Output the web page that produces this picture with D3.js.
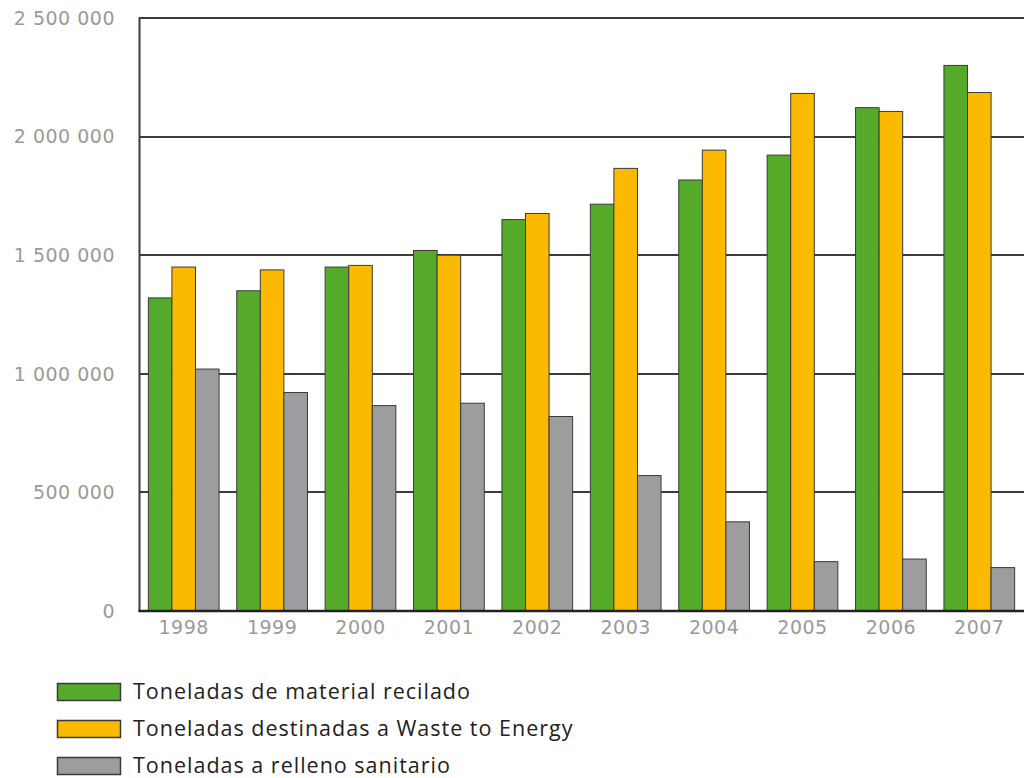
<!DOCTYPE html>
<html>
<head>
<meta charset="utf-8">
<script src="https://cdn.jsdelivr.net/npm/d3@7"></script>
<style>
  html, body { margin: 0; padding: 0; background: #fff; }
  svg { display: block; }
</style>
</head>
<body>
<svg id="chart" width="1024" height="778"></svg>
<script>
// Years on the horizontal axis
const years = ["1998", "1999", "2000", "2001", "2002", "2003", "2004", "2005", "2006", "2007"];

// Tonnes per year for each destination
const recycled = [1320000, 1350000, 1450000, 1520000, 1650000, 1715000, 1817000, 1922000, 2122000, 2300000];
const wasteToEnergy = [1450000, 1438000, 1457000, 1500000, 1676000, 1866000, 1943000, 2182000, 2106000, 2186000];
const landfill = [1020000, 921000, 866000, 876000, 820000, 571000, 376000, 208000, 219000, 183000];

// Vertical axis ticks
const yTicks = [0, 500000, 1000000, 1500000, 2000000, 2500000];

// Legend entries
const seriesNames = [
  "Toneladas de material recilado",
  "Toneladas destinadas a Waste to Energy",
  "Toneladas a relleno sanitario"
];
const seriesColors = ["#56aa2a", "#fbb900", "#9d9d9f"];
const seriesValues = [recycled, wasteToEnergy, landfill];

const svg = d3.select("#chart");

const plot = { left: 139.5, right: 1023.5, top: 18, bottom: 611 };

const x = d3.scaleBand()
  .domain(years)
  .range([plot.left, plot.right])
  .paddingInner(0.2)
  .paddingOuter(0.1);

const xInner = d3.scaleBand()
  .domain(d3.range(seriesValues.length))
  .range([0, x.bandwidth()])
  .padding(0);

const y = d3.scaleLinear()
  .domain([0, 2500000])
  .range([plot.bottom, plot.top]);

const fmt = d3.formatLocale({ decimal: ",", thousands: " ", grouping: [3], currency: ["", ""] }).format(",");

// Horizontal gridlines
svg.append("g")
  .selectAll("line")
  .data(yTicks)
  .join("line")
  .attr("x1", plot.left)
  .attr("x2", 1024)
  .attr("y1", d => Math.round(y(d)))
  .attr("y2", d => Math.round(y(d)))
  .attr("stroke", "#3c3c3c")
  .attr("stroke-width", 2);

// Left axis line
svg.append("line")
  .attr("x1", plot.left)
  .attr("x2", plot.left)
  .attr("y1", plot.top - 1)
  .attr("y2", plot.bottom + 1)
  .attr("stroke", "#3c3c3c")
  .attr("stroke-width", 2);

// Y tick labels
svg.append("g")
  .selectAll("text")
  .data(yTicks)
  .join("text")
  .attr("x", 115)
  .attr("y", d => y(d))
  .attr("dy", "0.36em")
  .attr("text-anchor", "end")
  .attr("font-family", "DejaVu Sans, Verdana, sans-serif")
  .attr("font-size", 19)
  .attr("letter-spacing", 0.5)
  .attr("fill", "#9a9a9a")
  .text(d => fmt(d));

// Bars
const groups = svg.append("g")
  .selectAll("g")
  .data(years)
  .join("g")
  .attr("transform", d => `translate(${x(d)},0)`);

groups.selectAll("rect")
  .data((d, i) => seriesValues.map((vals, s) => ({ s, v: vals[i] })))
  .join("rect")
  .attr("x", d => xInner(d.s))
  .attr("width", xInner.bandwidth())
  .attr("y", d => y(d.v))
  .attr("height", d => y(0) - y(d.v))
  .attr("fill", d => seriesColors[d.s])
  .attr("stroke", "#3a3a3a")
  .attr("stroke-width", 1);

// Baseline
svg.append("line")
  .attr("x1", plot.left - 1)
  .attr("x2", 1024)
  .attr("y1", plot.bottom)
  .attr("y2", plot.bottom)
  .attr("stroke", "#222")
  .attr("stroke-width", 2.5);

// X labels
svg.append("g")
  .selectAll("text")
  .data(years)
  .join("text")
  .attr("x", d => x(d) + x.bandwidth() / 2)
  .attr("y", 634)
  .attr("text-anchor", "middle")
  .attr("font-family", "DejaVu Sans, Verdana, sans-serif")
  .attr("font-size", 19)
  .attr("letter-spacing", 0.5)
  .attr("fill", "#9a9a9a")
  .text(d => d);

// Legend
const legend = svg.append("g")
  .selectAll("g")
  .data(seriesNames)
  .join("g")
  .attr("transform", (d, i) => `translate(0,${692 + i * 37})`);

legend.append("rect")
  .attr("x", 57.5)
  .attr("y", -8.5)
  .attr("width", 63)
  .attr("height", 17)
  .attr("fill", (d, i) => seriesColors[i])
  .attr("stroke", "#3a3a3a")
  .attr("stroke-width", 1.5);

legend.append("text")
  .attr("x", 133)
  .attr("y", 0)
  .attr("dy", "0.33em")
  .attr("font-family", "Open Sans, sans-serif")
  .attr("font-size", 21.5)
  .attr("letter-spacing", 1)
  .attr("fill", "#222")
  .text(d => d);
</script>
</body>
</html>
